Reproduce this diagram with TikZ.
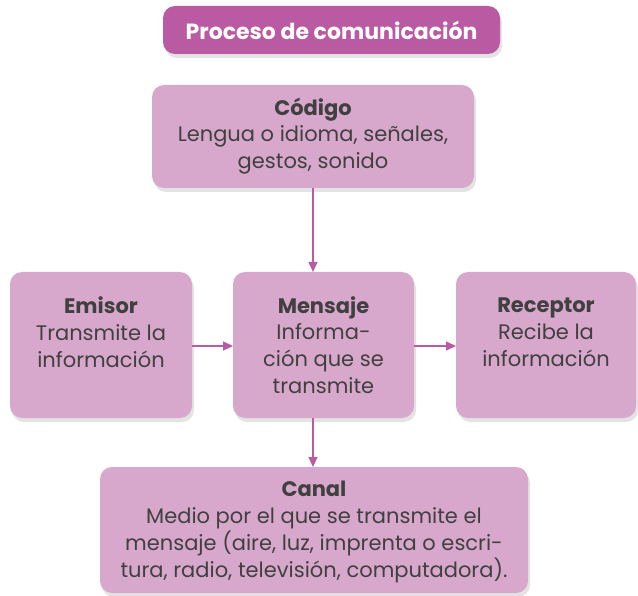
\documentclass[tikz,border=0pt]{standalone}
\usepackage{fontspec}
\setmainfont{Poppins}
\usetikzlibrary{shadows,arrows.meta}
\definecolor{titlec}{HTML}{BA5AA2}
\definecolor{boxc}{HTML}{D8A8CC}
\definecolor{txtc}{HTML}{404040}
\tikzset{
  box/.style={fill=boxc, rounded corners=12pt, draw=none,
    drop shadow={shadow xshift=2pt, shadow yshift=-4pt, opacity=0.18, fill=black!60}},
  conn/.style={draw=titlec, line width=1.3pt, -{Triangle[length=10pt,width=9pt]}},
  lbl/.style={text=txtc, align=center, font=\fontsize{21}{26.8}\selectfont}
}
\begin{document}
\begin{tikzpicture}[x=1pt,y=-1pt]
\useasboundingbox (0,0) rectangle (638,596);
% title
\path[box, fill=titlec] (163,6) rectangle (500,54);
\node (title) at (331.5,30) {\fontsize{22}{26}\selectfont\bfseries\color{white}Proceso de comunicación};
% boxes
\path[box] (152,85) rectangle (474,188);
\path[box] (10,272) rectangle (192,418);
\path[box] (233,272) rectangle (414,418);
\path[box] (456,272) rectangle (636,418);
\path[box] (100,467) rectangle (528,593);
\coordinate (cod) at (313,188);
\coordinate (menT) at (313,272);
\coordinate (menB) at (313,418);
\coordinate (menL) at (233,346);
\coordinate (menR) at (414,346);
\coordinate (emiR) at (192,346);
\coordinate (recL) at (456,346);
\coordinate (canT) at (313,467);
\node[lbl] (tcod) at (313,136) {\textbf{Código}\\Lengua o idioma, señales,\\gestos, sonido};
\node[lbl] (temi) at (101,332) {\textbf{Emisor}\\Transmite la\\información};
\node[lbl] (tmen) at (323.5,345) {\textbf{Mensaje}\\Informa-\\ción que se\\transmite};
\node[lbl] (trec) at (546,332) {\textbf{Receptor}\\Recibe la\\información};
\node[lbl] (tcan) at (314,532) {\textbf{Canal}\\Medio por el que se transmite el\\mensaje (aire, luz, imprenta o escri-\\tura, radio, televisión, computadora).};
\draw[conn] (cod) -- (menT);
\draw[conn] (emiR) -- (menL);
\draw[conn] (menR) -- (recL);
\draw[conn] (menB) -- (canT);
\end{tikzpicture}
\end{document}
